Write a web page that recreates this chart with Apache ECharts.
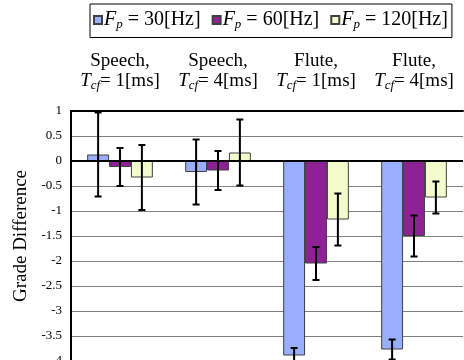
<!DOCTYPE html>
<html>
<head>
<meta charset="utf-8">
<script src="https://cdn.jsdelivr.net/npm/echarts@6/dist/echarts.min.js"></script>
<style>
  html, body { margin: 0; padding: 0; background: #fff; }
  #chart { width: 464px; height: 360px; }
</style>
</head>
<body>
<div id="chart"></div>
<script>
const categories = ['Speech,|1', 'Speech,|4', 'Flute,|1', 'Flute,|4']
const seriesNames = ['30', '60', '120']

const blue = [0.13, -0.22, -3.89, -3.77]
const purple = [-0.12, -0.19, -2.05, -1.5]
const yellow = [-0.33, 0.17, -1.17, -0.73]

const errBlue = [0.84, 0.65, 0.15, 0.2]
const errPurple = [0.38, 0.39, 0.33, 0.41]
const errYellow = [0.65, 0.66, 0.52, 0.32]

const colors = ['#9aaeff', '#8e2196', '#f3fbcc']
const font = 'Liberation Serif'

const values = [blue, purple, yellow]
const errs = [errBlue, errPurple, errYellow]

// rich text pieces: normal, italic, italic subscript
const makeRich = size => ({
  n: { fontFamily: font, fontSize: size, color: '#000' },
  i: { fontFamily: font, fontSize: size, fontStyle: 'italic', color: '#000' },
  s: { fontFamily: font, fontSize: 13, fontStyle: 'italic', color: '#000', padding: [10, 0, 0, 0] }
})

const groupFrac = 0.67

const barSeries = values.map((vals, k) => ({
  name: seriesNames[k],
  type: 'bar',
  data: vals,
  barGap: '0%',
  barCategoryGap: '33%',
  itemStyle: { color: colors[k], borderColor: '#404040', borderWidth: 1 },
  markLine: k === 0 ? {
    silent: true,
    symbol: 'none',
    label: { show: false },
    lineStyle: { color: '#000', width: 2, type: 'solid' },
    data: [{ yAxis: 0 }]
  } : undefined,
  z: 2
}))

const errSeries = values.map((vals, k) => ({
  type: 'custom',
  name: 'err' + k,
  z: 5,
  data: vals.map((v, i) => [i, v - errs[k][i], v + errs[k][i]]),
  renderItem: (params, api) => {
    const band = api.size([1, 0])[0]
    const bw = band * groupFrac / 3
    const lo = api.coord([api.value(0), api.value(1)])
    const hi = api.coord([api.value(0), api.value(2)])
    const x = lo[0] + (k - 1) * bw
    const cap = 3.5
    const style = { stroke: '#000', lineWidth: 2 }
    return {
      type: 'group',
      children: [
        { type: 'line', shape: { x1: x, y1: hi[1], x2: x, y2: lo[1] }, style },
        { type: 'line', shape: { x1: x - cap, y1: hi[1], x2: x + cap, y2: hi[1] }, style },
        { type: 'line', shape: { x1: x - cap, y1: lo[1], x2: x + cap, y2: lo[1] }, style }
      ]
    }
  }
}))

const chart = echarts.init(document.getElementById('chart'))

chart.setOption({
  animation: false,
  legend: {
    data: seriesNames,
    left: 90,
    top: 4,
    padding: [6, 4, 6, 3],
    borderColor: '#000',
    borderWidth: 1,
    itemWidth: 8,
    itemHeight: 8,
    itemGap: 11,
    icon: 'rect',
    formatter: name => '{i|F}{s|p}{n| = ' + name + '[Hz]}',
    textStyle: { rich: makeRich(20), padding: [0, 0, 0, -3] }
  },
  grid: { left: 71, top: 111, width: 392, height: 250, outerBoundsMode: 'none' },
  xAxis: {
    type: 'category',
    position: 'top',
    data: categories,
    axisLine: { show: true, onZero: false, lineStyle: { color: '#000', width: 2 } },
    axisTick: { show: false },
    axisLabel: {
      margin: 20,
      interval: 0,
      lineHeight: 20,
      formatter: v => {
        const p = v.split('|')
        return '{n|' + p[0] + '}\n{i|T}{s|cf}{n|= ' + p[1] + '[ms]}'
      },
      rich: makeRich(19)
    }
  },
  yAxis: {
    type: 'value',
    min: -4,
    max: 1,
    interval: 0.5,
    name: 'Grade Difference',
    nameLocation: 'middle',
    nameGap: 38,
    nameTextStyle: { fontFamily: font, fontSize: 19, color: '#000' },
    axisLine: { show: true, lineStyle: { color: '#000', width: 2 } },
    axisTick: { show: false },
    axisLabel: { fontFamily: font, fontSize: 13, color: '#000', margin: 9 },
    splitLine: { lineStyle: { color: '#808080', width: 1 } }
  },
  series: [...barSeries, ...errSeries]
})
</script>
</body>
</html>
